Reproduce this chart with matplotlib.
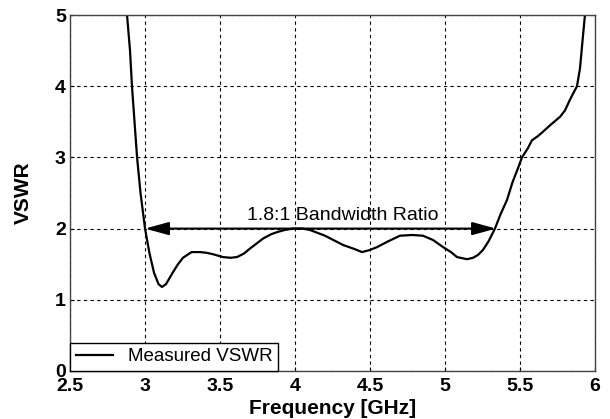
import matplotlib
matplotlib.use("Agg")
import matplotlib.pyplot as plt

# measured VSWR
freq_ghz = [2.88, 2.90, 2.913, 2.93, 2.947, 2.97, 3.0, 3.03, 3.06, 3.09, 3.113, 3.14,
            3.187, 3.22, 3.253, 3.31, 3.367, 3.41, 3.453, 3.52, 3.57, 3.613, 3.66,
            3.7, 3.75, 3.787, 3.84, 3.88, 3.93, 3.987, 4.05, 4.1, 4.2, 4.32, 4.4,
            4.447, 4.5, 4.547, 4.62, 4.7, 4.78, 4.853, 4.92, 4.987, 5.04, 5.08, 5.147,
            5.187, 5.22, 5.253, 5.29, 5.333, 5.37, 5.413, 5.45, 5.487, 5.513, 5.55,
            5.58, 5.62, 5.653, 5.70, 5.767, 5.80, 5.833, 5.86, 5.88, 5.90, 5.913, 5.933]
vswr = [5.0, 4.5, 4.0, 3.5, 3.0, 2.5, 2.0, 1.65, 1.38, 1.22, 1.18, 1.22,
        1.39, 1.50, 1.59, 1.67, 1.67, 1.66, 1.64, 1.60, 1.59, 1.60, 1.65,
        1.72, 1.80, 1.86, 1.92, 1.95, 1.98, 2.0, 2.0, 1.98, 1.90, 1.77, 1.71,
        1.67, 1.70, 1.74, 1.82, 1.90, 1.91, 1.90, 1.84, 1.74, 1.67, 1.60, 1.57,
        1.59, 1.63, 1.70, 1.82, 2.0, 2.2, 2.40, 2.65, 2.85, 3.0, 3.12,
        3.24, 3.30, 3.36, 3.45, 3.57, 3.66, 3.81, 3.92, 4.0, 4.25, 4.55, 5.0]

x_ticks = [2.5, 3, 3.5, 4, 4.5, 5, 5.5, 6]
x_tick_labels = ["2.5", "3", "3.5", "4", "4.5", "5", "5.5", "6"]
y_ticks = [0, 1, 2, 3, 4, 5]

band_lo, band_hi, band_level = 3.0, 5.34, 2.0

plt.rcParams['font.family'] = ['Liberation Sans', 'DejaVu Sans']

fig = plt.figure(figsize=(6.1, 4.19), dpi=100)
ax = fig.add_axes([0.1148, 0.1146, 0.8606, 0.8496])

ax.plot(freq_ghz, vswr, color='black', linewidth=1.6, label='Measured VSWR')

# bandwidth arrow
ax.annotate('', xy=(band_lo, band_level), xytext=(band_hi, band_level),
            arrowprops=dict(arrowstyle='<|-|>,head_length=1.2,head_width=0.33',
                            color='black', lw=1.5,
                            mutation_scale=12, shrinkA=0, shrinkB=0))
ax.text(4.32, 2.07, '1.8:1 Bandwidth Ratio', ha='center', va='bottom', fontsize=14)

ax.set_xlim(2.5, 6)
ax.set_ylim(0, 5)
ax.set_xticks(x_ticks)
ax.set_xticklabels(x_tick_labels)
ax.set_yticks(y_ticks)
ax.tick_params(axis='x', direction='in', length=3, labelsize=14, pad=5)
ax.tick_params(axis='y', direction='in', length=3, labelsize=14, pad=3)
for lab in ax.get_xticklabels() + ax.get_yticklabels():
    lab.set_fontweight('bold')

ax.grid(color='black', linestyle=(0, (3, 3)), linewidth=0.8)
for s in ax.spines.values():
    s.set_color('#444444')
    s.set_linewidth(1.0)

ax.set_xlabel('Frequency [GHz]', fontsize=15, fontweight='bold', labelpad=3)
ax.set_ylabel('VSWR', fontsize=15, fontweight='bold', labelpad=16)

leg = ax.legend(loc='lower left', fontsize=13.5, frameon=True, fancybox=False,
                borderaxespad=0, handlelength=2.0, borderpad=0.3,
                handletextpad=0.8)
leg.get_frame().set_edgecolor('black')
leg.get_frame().set_linewidth(1.0)
leg.get_frame().set_alpha(1)

fig.savefig('out.png', dpi=100)
